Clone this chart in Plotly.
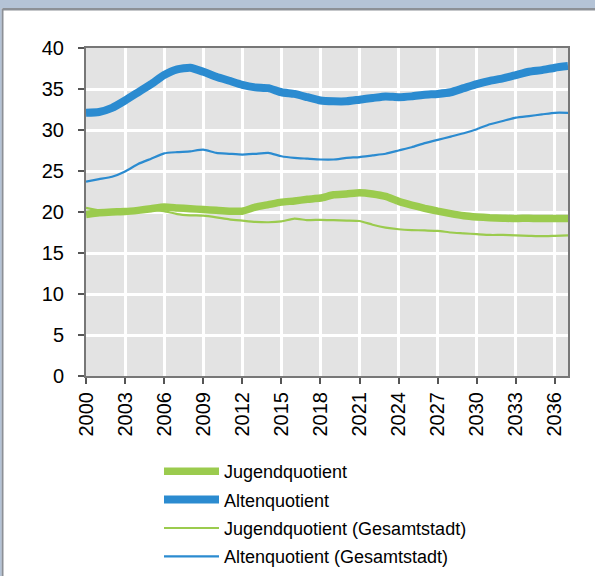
import plotly.graph_objects as go

years = list(range(2000, 2038))

jugendquotient = [19.7, 19.9, 20.0, 20.05, 20.2, 20.4, 20.6, 20.5, 20.4, 20.3,
                  20.2, 20.1, 20.1, 20.6, 20.9, 21.2, 21.35, 21.55, 21.7, 22.1,
                  22.2, 22.35, 22.2, 21.9, 21.3, 20.85, 20.45, 20.1, 19.8, 19.55,
                  19.4, 19.3, 19.25, 19.2, 19.25, 19.2, 19.2, 19.2]

altenquotient = [32.1, 32.2, 32.7, 33.6, 34.6, 35.6, 36.7, 37.4, 37.6, 37.1,
                 36.5, 36.0, 35.5, 35.2, 35.1, 34.6, 34.4, 34.0, 33.6, 33.5,
                 33.5, 33.7, 33.9, 34.1, 34.0, 34.1, 34.3, 34.4, 34.6, 35.1,
                 35.6, 36.0, 36.3, 36.7, 37.1, 37.3, 37.6, 37.8]

jugend_gesamt = [20.5, 20.2, 20.1, 20.0, 20.1, 20.3, 20.1, 19.75, 19.6, 19.55,
                 19.35, 19.1, 18.95, 18.8, 18.75, 18.85, 19.2, 19.0, 19.05, 19.0,
                 18.95, 18.9, 18.45, 18.1, 17.9, 17.8, 17.75, 17.7, 17.5, 17.4,
                 17.3, 17.2, 17.2, 17.15, 17.1, 17.05, 17.1, 17.15]

alten_gesamt = [23.7, 24.0, 24.3, 24.95, 25.85, 26.5, 27.15, 27.3, 27.4, 27.6,
                27.2, 27.1, 27.0, 27.1, 27.2, 26.8, 26.6, 26.5, 26.4, 26.4,
                26.6, 26.7, 26.9, 27.1, 27.5, 27.9, 28.4, 28.8, 29.2, 29.6,
                30.1, 30.7, 31.1, 31.5, 31.7, 31.9, 32.1, 32.1]

xticks = list(range(2000, 2037, 3))
yticks = [0, 5, 10, 15, 20, 25, 30, 35, 40]

GREEN = "#9BCB4E"
BLUE = "#2B8BD0"

fig = go.Figure()
series = [
    ("Jugendquotient", jugendquotient, GREEN, 7.5),
    ("Altenquotient", altenquotient, BLUE, 8),
    ("Jugendquotient (Gesamtstadt)", jugend_gesamt, GREEN, 2.2),
    ("Altenquotient (Gesamtstadt)", alten_gesamt, BLUE, 2.2),
]
for i, (name, vals, col, w) in enumerate(series):
    fig.add_trace(go.Scatter(
        x=years, y=vals, name=name, mode="lines",
        line=dict(color=col, width=w, shape="spline", smoothing=0.5),
        legendgroup=f"g{i}",
    ))

L, R, T, B = 86, 27, 48, 200
W, H = 595, 576
pw, ph = W - L - R, H - T - B

def px2x(px):
    return (px - L) / pw

def py2y(py):
    return (H - B - py) / ph

shapes = [
    dict(type="rect", xref="paper", yref="paper",
         x0=px2x(-5), x1=px2x(W + 5), y0=py2y(8), y1=py2y(-5),
         fillcolor="#B4C3D6", line=dict(width=0), layer="above"),
    dict(type="rect", xref="paper", yref="paper",
         x0=px2x(-5), x1=px2x(1.8), y0=py2y(H + 5), y1=py2y(-5),
         fillcolor="#B4C3D6", line=dict(width=0), layer="above"),
    dict(type="line", xref="paper", yref="paper",
         x0=px2x(2.6), x1=px2x(W + 5), y0=py2y(9.2), y1=py2y(9.2),
         line=dict(color="#8C9096", width=2.4), layer="above"),
    dict(type="line", xref="paper", yref="paper",
         x0=px2x(2.6), x1=px2x(2.6), y0=py2y(H + 5), y1=py2y(8.5),
         line=dict(color="#8C9096", width=1.8), layer="above"),
]

fig.update_layout(
    width=W, height=H,
    margin=dict(l=L, r=R, t=T, b=B, pad=0, autoexpand=False),
    paper_bgcolor="white",
    plot_bgcolor="#E3E3E3",
    font=dict(family="Liberation Sans, Arial, sans-serif", color="#000000"),
    showlegend=True,
    legend=dict(
        x=px2x(159), y=py2y(453), xanchor="left", yanchor="top",
        xref="paper", yref="paper",
        font=dict(size=18, color="#000000"),
        bgcolor="rgba(0,0,0,0)",
        tracegroupgap=2,
        itemwidth=55,
        traceorder="grouped",
    ),
    shapes=shapes,
)

fig.update_xaxes(
    range=[2000, 2037],
    tickmode="array", tickvals=xticks, ticktext=[str(t) for t in xticks],
    tickangle=-90,
    tickfont=dict(size=20),
    ticks="outside", ticklen=6, tickcolor="#555555", tickwidth=1.5,
    showgrid=True, gridcolor="white", gridwidth=2.5,
    showline=True, linecolor="#777777", linewidth=2, mirror=True,
    zeroline=False,
)
fig.update_yaxes(
    range=[0, 40],
    tickmode="array", tickvals=yticks,
    tickfont=dict(size=20),
    ticks="outside", ticklen=6, tickcolor="#555555", tickwidth=1.5,
    ticklabelstandoff=10,
    showgrid=True, gridcolor="white", gridwidth=2.5,
    showline=True, linecolor="#777777", linewidth=2, mirror=True,
    zeroline=False,
)

fig.write_html(
    "out.html",
    config={"displayModeBar": False},
    post_script="document.body.style.margin='0';document.body.style.overflow='hidden';",
)
